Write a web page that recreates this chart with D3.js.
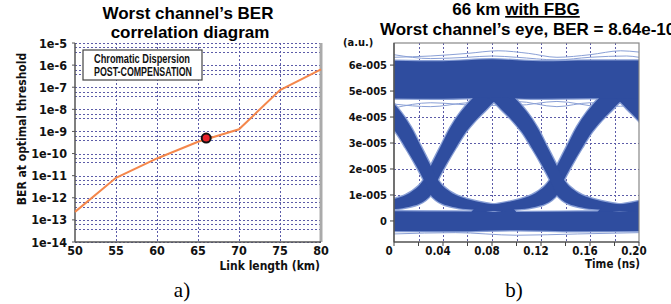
<!DOCTYPE html>
<html>
<head>
<meta charset="utf-8">
<script src="https://cdn.jsdelivr.net/npm/d3@7"></script>
<style>
  body { margin: 0; background: #fff; }
  svg { display: block; }
  .tk { font-family: "DejaVu Sans Condensed", "DejaVu Sans", sans-serif; font-weight: bold; fill: #111; }
  .ttl { font-family: "Liberation Sans", Arial, sans-serif; font-weight: bold; font-size: 17px; fill: #000; }
  .cap { font-family: "Liberation Serif", "Times New Roman", serif; font-size: 21px; fill: #000; }
  .lg { font-family: "Liberation Sans", Arial, sans-serif; font-weight: bold; font-size: 12.5px; fill: #111; }
</style>
</head>
<body>
<script>
// left chart: worst channel BER against link length
var linkKm = [50, 55, 60, 65, 70, 75, 80];
var berValues = [2.3e-13, 8e-12, 6e-11, 3.4e-10, 1.25e-9, 7.4e-8, 6.4e-7];
var markerKm = [66];
var markerBer = [5e-10];
var kmTicks = [50, 55, 60, 65, 70, 75, 80];
var berTicks = [1e-5, 1e-6, 1e-7, 1e-8, 1e-9, 1e-10, 1e-11, 1e-12, 1e-13, 1e-14];
var berTickLabels = ["1e-5", "1e-6", "1e-7", "1e-8", "1e-9", "1e-10", "1e-11", "1e-12", "1e-13", "1e-14"];
var berMinorSteps = [0.63, 0.4];

// right chart: eye diagram, envelopes (t in ns, amplitude in 1e-5 a.u.)
var timeTicks = [0, 0.04, 0.08, 0.12, 0.16, 0.20];
var timeTickLabels = ["0", "0.04", "0.08", "0.12", "0.16", "0.20"];
var timeMinor = [0.02, 0.04, 0.06, 0.08, 0.10, 0.12, 0.14, 0.16, 0.18];
var ampTicks = [0, 1, 2, 3, 4, 5, 6];
var ampTickLabels = ["0", "1e-005", "2e-005", "3e-005", "4e-005", "5e-005", "6e-005"];

// crossing times of the eye
var crossTimes = [-0.073, 0.030, 0.133, 0.236];

// edges of the rising / falling bundles, time offset from the crossing
var riseEarly = [[-0.065, 0.55], [-0.049, 0.65], [-0.0327, 0.81], [-0.0204, 1.0], [-0.0098, 1.35], [-0.0049, 1.65], [0, 2.12],
                 [0.0082, 2.88], [0.0163, 3.62], [0.0245, 4.19], [0.0327, 4.65], [0.0408, 4.96], [0.0531, 5.15]];
var riseLate = [[-0.07, 0.30], [-0.049, 0.40], [-0.0286, 0.46], [-0.018, 0.54], [-0.0098, 0.65], [-0.0041, 0.81], [0, 1.0],
                [0.0049, 1.5], [0.0122, 2.15], [0.0204, 2.81], [0.0286, 3.42], [0.0367, 3.88], [0.0449, 4.27],
                [0.0531, 4.65], [0.0653, 4.96]];
var fallEarly = [[-0.0653, 4.96], [-0.0531, 4.65], [-0.0449, 4.27], [-0.0367, 3.88], [-0.0286, 3.42], [-0.0204, 2.81],
                 [-0.0122, 2.15], [-0.0049, 1.5], [0, 1.0], [0.0041, 0.81], [0.0098, 0.65], [0.018, 0.54],
                 [0.0286, 0.46], [0.049, 0.40], [0.07, 0.30]];
var fallLate = [[-0.0531, 5.15], [-0.0408, 4.96], [-0.0327, 4.65], [-0.0245, 4.19], [-0.0163, 3.62], [-0.0082, 2.88],
                [0, 2.12], [0.0049, 1.65], [0.0098, 1.35], [0.0204, 1.0], [0.0327, 0.81], [0.049, 0.65], [0.065, 0.55]];

// the two rails: [t, low, high]
var topRail = [[-0.01, 4.72, 6.18], [0.04, 4.70, 6.15], [0.08, 4.75, 6.22], [0.12, 4.70, 6.15], [0.16, 4.72, 6.18], [0.21, 4.70, 6.18]];
var bottomRail = [[-0.01, -0.38, 0.38], [0.05, -0.40, 0.36], [0.10, -0.36, 0.34], [0.15, -0.40, 0.36], [0.21, -0.38, 0.38]];

// a few loose traces outside the dense bundles
var strayTraces = [
  [[0, 6.30], [0.03, 6.35], [0.06, 6.45], [0.085, 6.55], [0.11, 6.45], [0.133, 6.30], [0.16, 6.40], [0.185, 6.55], [0.2, 6.50]],
  [[0, 6.40], [0.03, 6.25], [0.06, 6.30], [0.08, 6.35], [0.10, 6.30], [0.133, 6.20], [0.16, 6.30], [0.19, 6.35], [0.2, 6.30]],
  [[0, 4.50], [0.03, 4.40], [0.06, 4.55], [0.10, 4.60], [0.133, 4.40], [0.16, 4.55], [0.2, 4.50]],
  [[0, 4.35], [0.03, 4.55], [0.07, 4.45], [0.10, 4.45], [0.133, 4.60], [0.17, 4.40], [0.2, 4.45]],
  [[0, -0.50], [0.05, -0.45], [0.10, -0.55], [0.15, -0.50], [0.2, -0.45]]
];

var svg = d3.select("body").append("svg")
    .attr("width", 671)
    .attr("height", 304)
    .style("background", "#fff");

var gridCol = "#5c5ca8";

// ---------------- left chart ----------------
var xL = d3.scaleLinear().domain([50, 80]).range([75, 321]);
var yL = d3.scaleLog().domain([1e-14, 1e-5]).range([242, 43]);

var left = svg.append("g");

// horizontal grid, decade lines plus the two in-between lines
var hLines = [];
berTicks.forEach(function(b) {
  hLines.push(b);
  if (b > 1e-14) berMinorSteps.forEach(function(m) { hLines.push(b * m); });
});
left.selectAll(".hg").data(hLines).enter().append("line")
    .attr("x1", xL(50)).attr("x2", xL(80))
    .attr("y1", function(d) { return Math.round(yL(d)) + 0.5; })
    .attr("y2", function(d) { return Math.round(yL(d)) + 0.5; })
    .style("stroke", gridCol).style("stroke-width", 1).style("stroke-dasharray", "2,2");

left.selectAll(".vg").data(kmTicks.slice(1, -1)).enter().append("line")
    .attr("x1", function(d) { return Math.round(xL(d)) + 0.5; })
    .attr("x2", function(d) { return Math.round(xL(d)) + 0.5; })
    .attr("y1", yL(1e-5)).attr("y2", yL(1e-14))
    .style("stroke", gridCol).style("stroke-width", 1).style("stroke-dasharray", "2,2");

// frame
left.append("line").attr("x1", xL(80)).attr("x2", xL(80)).attr("y1", yL(1e-5)).attr("y2", yL(1e-14))
    .style("stroke", "#aaa").style("stroke-width", 3);
left.append("line").attr("x1", xL(50)).attr("x2", xL(50)).attr("y1", yL(1e-5)).attr("y2", yL(1e-14))
    .style("stroke", "#555").style("stroke-width", 1.5);
left.append("line").attr("x1", xL(50)).attr("x2", xL(80)).attr("y1", yL(1e-14)).attr("y2", yL(1e-14))
    .style("stroke", "#555").style("stroke-width", 1.5);

left.selectAll(".yt").data(berTicks).enter().append("line")
    .attr("x1", xL(50) - 3).attr("x2", xL(50))
    .attr("y1", function(d) { return yL(d); }).attr("y2", function(d) { return yL(d); })
    .style("stroke", "#555");

left.selectAll(".yl").data(berTicks).enter().append("text")
    .attr("class", "tk")
    .attr("x", 67).attr("y", function(d) { return yL(d) + 4.5; })
    .attr("text-anchor", "end").style("font-size", "12.5px")
    .text(function(d, i) { return berTickLabels[i]; });

left.selectAll(".xl").data(kmTicks).enter().append("text")
    .attr("class", "tk")
    .attr("x", function(d) { return xL(d); }).attr("y", 255)
    .attr("text-anchor", "middle").style("font-size", "12.5px")
    .text(function(d) { return d; });

// the BER curve
var berLine = d3.line()
    .x(function(d) { return xL(d[0]); })
    .y(function(d) { return yL(d[1]); });
left.append("path")
    .datum(d3.zip(linkKm, berValues))
    .attr("d", berLine)
    .style("fill", "none").style("stroke", "#f4874b").style("stroke-width", 2);

left.selectAll(".mk").data(d3.zip(markerKm, markerBer)).enter().append("circle")
    .attr("cx", function(d) { return xL(d[0]); })
    .attr("cy", function(d) { return yL(d[1]); })
    .attr("r", 4.5)
    .style("fill", "#e8232a").style("stroke", "#111").style("stroke-width", 2);

// legend box
left.append("rect").attr("x", 83).attr("y", 50).attr("width", 119).attr("height", 30)
    .style("fill", "#fff").style("stroke", "#444").style("stroke-width", 1.2);
left.append("text").attr("class", "lg").attr("x", 94).attr("y", 63)
    .attr("textLength", 96).attr("lengthAdjust", "spacingAndGlyphs")
    .text("Chromatic Dispersion");
left.append("text").attr("class", "lg").attr("x", 94).attr("y", 75.5)
    .attr("textLength", 98).attr("lengthAdjust", "spacingAndGlyphs")
    .text("POST-COMPENSATION");

// titles
left.append("text").attr("class", "ttl").attr("x", 188).attr("y", 19).attr("text-anchor", "middle")
    .text("Worst channel\u2019s BER");
left.append("text").attr("class", "ttl").attr("x", 190).attr("y", 38).attr("text-anchor", "middle")
    .text("correlation diagram");
left.append("text").attr("class", "tk")
    .attr("transform", "translate(26,129) rotate(-90)")
    .attr("text-anchor", "middle").style("font-size", "12px")
    .text("BER at optimal threshold");
left.append("text").attr("class", "tk").attr("x", 320).attr("y", 270).attr("text-anchor", "end")
    .style("font-size", "12px").text("Link length (km)");
left.append("text").attr("class", "cap").attr("x", 182).attr("y", 297).attr("text-anchor", "middle").text("a)");

// ---------------- right chart: eye ----------------
var xR = d3.scaleLinear().domain([0, 0.2]).range([394, 639]);
var yR = d3.scaleLinear().domain([-0.81, 6.85]).range([242, 43]);

var right = svg.append("g");

svg.append("defs").append("clipPath").attr("id", "eyeclip")
  .append("rect").attr("x", xR(0)).attr("y", yR(6.85)).attr("width", xR(0.2) - xR(0)).attr("height", yR(-0.81) - yR(6.85));

right.selectAll(".vg").data(timeMinor).enter().append("line")
    .attr("x1", function(d) { return Math.round(xR(d)) + 0.5; })
    .attr("x2", function(d) { return Math.round(xR(d)) + 0.5; })
    .attr("y1", yR(6.85)).attr("y2", yR(-0.81))
    .style("stroke", gridCol).style("stroke-width", 1).style("stroke-dasharray", "2,2");
right.selectAll(".hg").data(ampTicks).enter().append("line")
    .attr("x1", xR(0)).attr("x2", xR(0.2))
    .attr("y1", function(d) { return Math.round(yR(d)) + 0.5; })
    .attr("y2", function(d) { return Math.round(yR(d)) + 0.5; })
    .style("stroke", gridCol).style("stroke-width", 1).style("stroke-dasharray", "2,2");

var eyeBlue = "#2f4d9f";
var eyeLight = "#8aa0d6";

var eye = right.append("g").attr("clip-path", "url(#eyeclip)");

var bandPath = d3.line()
    .x(function(d) { return xR(d[0]); })
    .y(function(d) { return yR(d[1]); })
    .curve(d3.curveCatmullRomClosed);
var railArea = d3.area()
    .x(function(d) { return xR(d[0]); })
    .y0(function(d) { return yR(d[1]); })
    .y1(function(d) { return yR(d[2]); })
    .curve(d3.curveMonotoneX);
var traceLine = d3.line()
    .x(function(d) { return xR(d[0]); })
    .y(function(d) { return yR(d[1]); })
    .curve(d3.curveMonotoneX);

function band(c, early, late) {
  var a = early.map(function(p) { return [c + p[0], p[1]]; });
  var b = late.map(function(p) { return [c + p[0], p[1]]; }).reverse();
  return a.concat(b);
}

var bands = [];
crossTimes.forEach(function(c) {
  bands.push(band(c, riseEarly, riseLate));
  bands.push(band(c, fallEarly, fallLate));
});

// soft halo first, then the dense fill
eye.selectAll(".halo").data(bands).enter().append("path")
    .attr("d", bandPath)
    .style("fill", "none").style("stroke", eyeLight).style("stroke-width", 2.5);
eye.selectAll(".halor").data([topRail, bottomRail]).enter().append("path")
    .attr("d", railArea)
    .style("fill", "none").style("stroke", eyeLight).style("stroke-width", 2.5);

eye.selectAll(".trace").data(strayTraces).enter().append("path")
    .attr("d", traceLine)
    .style("fill", "none").style("stroke", eyeLight).style("stroke-width", 1);

eye.selectAll(".band").data(bands).enter().append("path")
    .attr("d", bandPath)
    .style("fill", eyeBlue);
eye.selectAll(".rail").data([topRail, bottomRail]).enter().append("path")
    .attr("d", railArea)
    .style("fill", eyeBlue);

// frame and ticks
right.append("rect").attr("x", xR(0)).attr("y", yR(6.85)).attr("width", xR(0.2) - xR(0)).attr("height", yR(-0.81) - yR(6.85))
    .style("fill", "none").style("stroke", "#888").style("stroke-width", 1.2);
right.append("line").attr("x1", xR(0)).attr("x2", xR(0)).attr("y1", yR(6.85)).attr("y2", yR(-0.81))
    .style("stroke", "#444").style("stroke-width", 1.2);
right.append("line").attr("x1", xR(0)).attr("x2", xR(0.2)).attr("y1", yR(-0.81)).attr("y2", yR(-0.81))
    .style("stroke", "#444").style("stroke-width", 1.2);

right.selectAll(".xt").data([0].concat(timeMinor).concat([0.2])).enter().append("line")
    .attr("x1", function(d) { return xR(d); }).attr("x2", function(d) { return xR(d); })
    .attr("y1", yR(-0.81)).attr("y2", yR(-0.81) + 4)
    .style("stroke", "#444");
right.selectAll(".yt").data(ampTicks).enter().append("line")
    .attr("x1", xR(0) - 4).attr("x2", xR(0))
    .attr("y1", function(d) { return yR(d); }).attr("y2", function(d) { return yR(d); })
    .style("stroke", "#444");

right.selectAll(".yl").data(ampTicks).enter().append("text")
    .attr("class", "tk")
    .attr("x", 387).attr("y", function(d) { return yR(d) + 4; })
    .attr("text-anchor", "end").style("font-size", "11px")
    .text(function(d, i) { return ampTickLabels[i]; });
right.selectAll(".xl").data(timeTicks).enter().append("text")
    .attr("class", "tk")
    .attr("x", function(d) { return xR(d) - 5; }).attr("y", 255)
    .attr("text-anchor", "middle").style("font-size", "11.5px")
    .text(function(d, i) { return timeTickLabels[i]; });

right.append("text").attr("class", "tk").attr("x", 343).attr("y", 46).style("font-size", "11px").text("(a.u.)");
right.append("text").attr("class", "tk").attr("x", 640).attr("y", 268).attr("text-anchor", "end")
    .style("font-size", "11.5px").text("Time (ns)");

var t1 = right.append("text").attr("class", "ttl").attr("x", 516).attr("y", 15).attr("text-anchor", "middle");
t1.append("tspan").text("66 km ");
t1.append("tspan").style("text-decoration", "underline").text("with FBG");
right.append("text").attr("class", "ttl").attr("x", 380).attr("y", 35)
    .text("Worst channel\u2019s eye, BER = 8.64e-10");
right.append("text").attr("class", "cap").attr("x", 514).attr("y", 297).attr("text-anchor", "middle").text("b)");
</script>
</body>
</html>
